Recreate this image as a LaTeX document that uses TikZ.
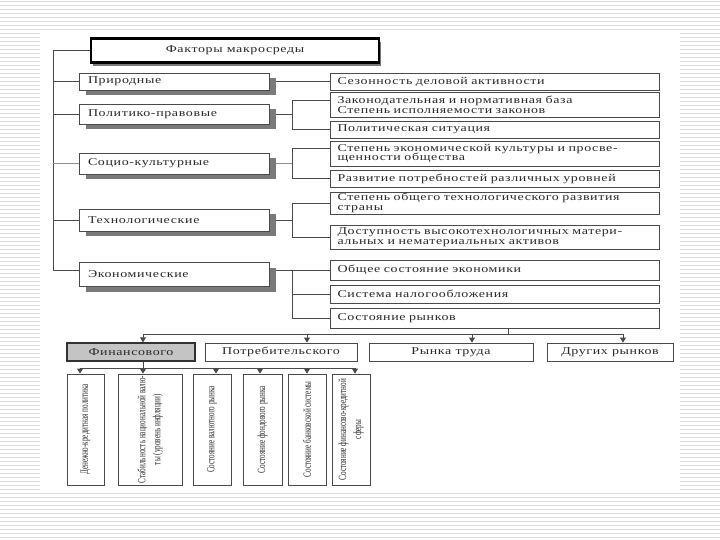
\documentclass[tikz,border=0pt]{standalone}
\usepackage{fontspec}
\setmainfont{Liberation Serif}[FakeStretch=1.33,LetterSpace=6]
\newfontfamily\vfont{Liberation Serif}[FakeStretch=0.65]
\usetikzlibrary{shadows,arrows.meta}
\definecolor{ln}{HTML}{4A4A4A}
\definecolor{txt}{HTML}{2A2A2A}
\definecolor{shd}{HTML}{7A7A7A}
\definecolor{stripe}{HTML}{DCDCDC}
\definecolor{finfill}{HTML}{C4C4C4}
\begin{document}
\begin{tikzpicture}[x=1pt,y=-1pt,
 conn/.style={draw=ln, line width=0.8pt},
 arr/.style={draw=ln, line width=0.8pt, -{Triangle[width=6pt,length=5pt]}},
 tbox/.style={draw=black, line width=2.8pt, fill=white, minimum width=288pt, minimum height=24pt, inner sep=0pt, text=txt, font=\fontsize{10.5}{11}\selectfont, drop shadow={shadow xshift=2pt, shadow yshift=-4pt, fill=shd, opacity=1}},
 lbox/.style={draw=ln, line width=0.8pt, fill=white, minimum width=190pt, text width=172pt, inner xsep=9pt, inner ysep=0pt, align=left, text=txt, font=\fontsize{10.5}{11}\selectfont, drop shadow={shadow xshift=7pt, shadow yshift=-5pt, fill=shd, opacity=1}},
 rbox/.style={draw=ln, line width=0.7pt, fill=white, minimum width=329pt, text width=314pt, inner xsep=7.5pt, inner ysep=0pt, align=left, text=txt, font=\fontsize{10.5}{9.8}\selectfont, drop shadow={shadow xshift=1.2pt, shadow yshift=-1.2pt, fill=shd, opacity=1}},
 mbox/.style={draw=ln, line width=0.8pt, fill=white, minimum height=18pt, inner sep=0pt, text=txt, font=\fontsize{10.5}{11}\selectfont, drop shadow={shadow xshift=1.2pt, shadow yshift=-1.2pt, fill=shd, opacity=1}},
 finbox/.style={mbox, fill=finfill, draw=black!80, line width=1.3pt},
 vbox/.style={draw=ln, line width=0.8pt, fill=white, minimum height=111pt, inner sep=0pt, drop shadow={shadow xshift=1.2pt, shadow yshift=-1.2pt, fill=shd, opacity=1}},
 vtext/.style={rotate=90, align=center, text=txt, inner sep=0pt, font=\vfont\fontsize{11}{15}\selectfont}
]
\useasboundingbox (0,0) rectangle (720,540);
% background
\fill[white] (0,0) rectangle (720,540);
\foreach \i in {0,...,134} {\draw[stripe, line width=1.3pt] (0,\i*4+1.5) -- (720,\i*4+1.5);}
\fill[white] (40,33) rectangle (680,492);

% title
\node[tbox] (title) at (235,50.5) {Факторы макросреды};

% left boxes
\node[lbox, minimum height=17pt] (prir)  at (174,81.5)  {Природные};
\node[lbox, minimum height=20pt] (polit) at (174,114)   {Политико-правовые};
\node[lbox, minimum height=21pt] (socio) at (174,163.5) {Социо-культурные};
\node[lbox, minimum height=22pt] (tech)  at (174,220)   {Технологические};
\node[lbox, minimum height=24pt] (econ)  at (174,274.5) {Экономические};

% right boxes
\node[rbox, minimum height=17pt] (sez)      at (494.5,81.5)  {Сезонность деловой активности};
\node[rbox, minimum height=25pt] (zakon)    at (494.5,104.5) {Законодательная и нормативная база\\Степень исполняемости законов};
\node[rbox, minimum height=17pt] (polsit)   at (494.5,129.5) {Политическая ситуация};
\node[rbox, minimum height=25pt] (stepek)   at (494.5,153.5) {Степень экономической культуры и просве-\\щенности общества};
\node[rbox, minimum height=17pt] (razv)     at (494.5,178.5) {Развитие потребностей различных уровней};
\node[rbox, minimum height=22pt] (steptech) at (494.5,203)   {Степень общего технологического развития\\страны};
\node[rbox, minimum height=24pt] (dost)     at (494.5,237)   {Доступность высокотехнологичных матери-\\альных и нематериальных активов};
\node[rbox, minimum height=20pt] (obsh)     at (494.5,270)   {Общее состояние экономики};
\node[rbox, minimum height=18pt] (sist)     at (494.5,294)   {Система налогообложения};
\node[rbox, minimum height=20pt] (sost)     at (494.5,318)   {Состояние рынков};

% left spine
\coordinate (L0) at (53,50.5);
\coordinate (L5) at (53,270);
\draw[conn] (title.west) -- (L0) -- (L5) -- ([yshift=4.5pt]econ.west);
\draw[conn] (L0 |- prir.west) -- (prir.west);
\draw[conn] (L0 |- polit.west) -- (polit.west);
\draw[conn, draw=ln!60] (L0 |- socio.west) -- (socio.west);
\draw[conn] (L0 |- tech.west) -- (tech.west);

% right brackets
\coordinate (B) at (292,0);
\draw[conn] ([xshift=7pt]prir.east) -- (sez.west);
\draw[conn] ([xshift=7pt]polit.east) -- (B |- polit.east);
\draw[conn] ([yshift=4.5pt]zakon.west) -| (B |- polsit.west) -- (polsit.west);
\draw[conn, draw=ln!60] ([xshift=7pt]socio.east) -- (B |- socio.east);
\draw[conn] ([yshift=5.5pt]stepek.west) -| (B |- razv.west) -- (razv.west);
\draw[conn] ([xshift=7pt]tech.east) -- (B |- tech.east);
\draw[conn] (steptech.west) -| (B |- dost.west) -- (dost.west);
\draw[conn] ([xshift=7pt,yshift=4.5pt]econ.east) -- (B |- obsh.west);
\draw[conn] (obsh.west) -| (B |- sost.west) -- (sost.west);
\draw[conn] (B |- sist.west) -- (sist.west);

% markets row
\node[finbox, minimum width=128pt] (fin)   at (131,352) {Финансового};
\node[mbox, minimum width=152pt]   (potr)  at (281,352) {Потребительского};
\node[mbox, minimum width=164pt]   (trud)  at (451,352) {Рынка труда};
\node[mbox, minimum width=126pt]   (drug)  at (610,352) {Других рынков};

\coordinate (bus) at (508,334);
\coordinate (t1) at (143,334);
\coordinate (t2) at (307,334);
\coordinate (t3) at (472,334);
\coordinate (t4) at (623,334);
\draw[conn] (sost.south -| bus) -- (bus);
\draw[conn] (t1) -- (t4);
\draw[arr] (t1) -- (t1 |- fin.north);
\draw[arr] (t2) -- (t2 |- potr.north);
\draw[arr] (t3) -- (t3 |- trud.north);
\draw[arr] (t4) -- (t4 |- drug.north);

% financial sub-boxes
\node[vbox, minimum width=37pt] (v1) at (85.5,429.5) {};
\node[vbox, minimum width=64pt] (v2) at (150,429.5) {};
\node[vbox, minimum width=38pt] (v3) at (212,429.5) {};
\node[vbox, minimum width=39pt] (v4) at (262.5,429.5) {};
\node[vbox, minimum width=38pt] (v5) at (307,429.5) {};
\node[vbox, minimum width=38pt] (v6) at (351,429.5) {};
\node[vtext] at (v1.center) {Денежно-кредитная политика};
\node[vtext] at (v2.center) {Стабильность национальной валю-\\ты (уровень инфляции)};
\node[vtext] at (v3.center) {Состояние валютного рынка};
\node[vtext] at (v4.center) {Состояние фондового рынка};
\node[vtext] at (v5.center) {Состояние банковской системы};
\node[vtext] at (v6.center) {Состояние финансово-кредитной\\сферы};

\coordinate (s0) at (143,368);
\coordinate (u1) at (80,368);
\coordinate (u3) at (216,368);
\coordinate (u4) at (260,368);
\coordinate (u5) at (307,368);
\coordinate (u6) at (355,368);
\draw[conn] (fin.south -| s0) -- (s0);
\draw[conn] (u1) -- (u6);
\draw[arr] (u1) -- (u1 |- v1.north);
\draw[arr] (s0) -- (s0 |- v2.north);
\draw[arr] (u3) -- (u3 |- v3.north);
\draw[arr] (u4) -- (u4 |- v4.north);
\draw[arr] (u5) -- (u5 |- v5.north);
\draw[arr] (u6) -- (u6 |- v6.north);
\end{tikzpicture}
\end{document}
